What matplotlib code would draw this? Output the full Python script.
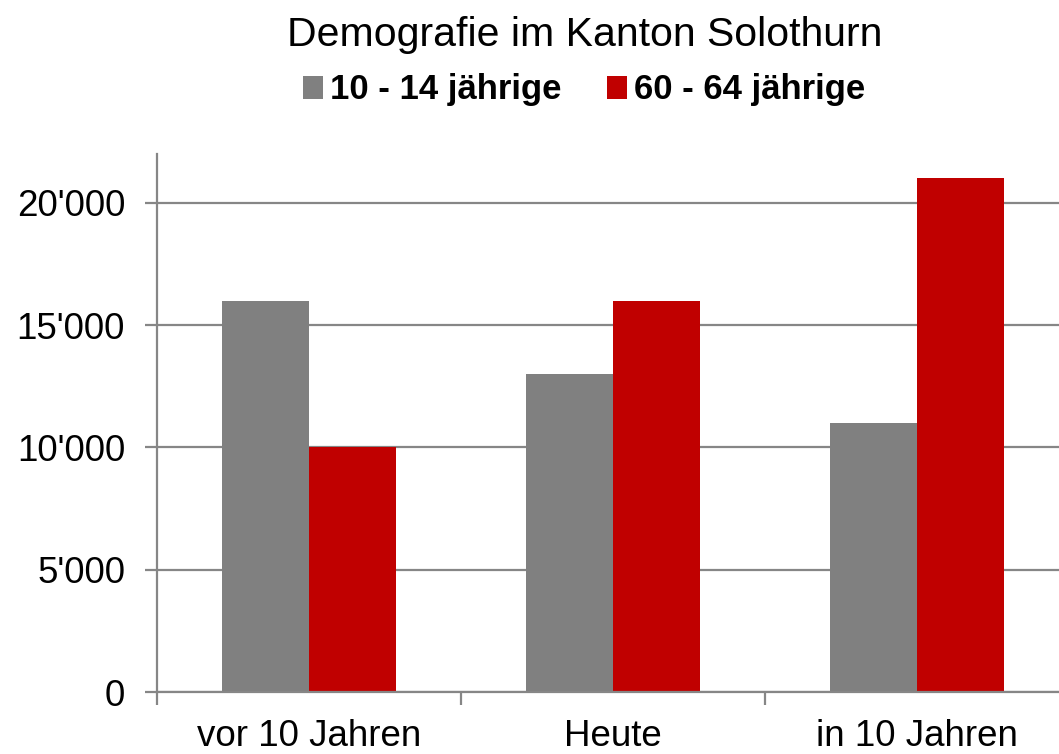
import matplotlib
matplotlib.use("Agg")
import matplotlib.pyplot as plt
from matplotlib.ticker import FuncFormatter, FixedLocator
from matplotlib.patches import Patch
import numpy as np

categories = ["vor 10 Jahren", "Heute", "in 10 Jahren"]
series_names = ["10 - 14 jährige", "60 - 64 jährige"]
young = [16000, 13000, 11000]
old = [10000, 16000, 21000]
colors = ["#808080", "#C00000"]
yticks = [0, 5000, 10000, 15000, 20000]

plt.rcParams["font.family"] = ["Liberation Sans", "DejaVu Sans"]

W, H = 1059, 754
fig = plt.figure(figsize=(W / 100, H / 100), dpi=100)
ax = fig.add_axes([157 / W, (H - 692) / H, 912 / W, 538 / H])

x = np.arange(len(categories))
bw = 0.286
ax.bar(x - bw / 2, young, width=bw, color=colors[0], zorder=3)
ax.bar(x + bw / 2, old, width=bw, color=colors[1], zorder=3)

ax.set_xlim(-0.5, 2.5)
ax.set_ylim(0, 22000)

gridc = "#868686"
ax.yaxis.set_major_locator(FixedLocator(yticks))
ax.yaxis.set_major_formatter(FuncFormatter(lambda v, p: f"{int(v):,}".replace(",", "'")))
ax.grid(axis="y", color=gridc, linewidth=1.6, zorder=1)
ax.set_axisbelow(True)

ax.set_xticks(x)
ax.set_xticklabels(categories)
ax.set_xticks([-0.5, 0.5, 1.5, 2.5], minor=True)
ax.tick_params(axis="x", which="major", length=0, pad=19.5, labelsize=26.5)
ax.tick_params(axis="x", which="minor", length=9, width=1.6, color=gridc, direction="out")
ax.tick_params(axis="y", which="major", length=9, width=1.6, color=gridc, direction="out",
               pad=14, labelsize=26.5)

for s in ["top", "right"]:
    ax.spines[s].set_visible(False)
for s in ["left", "bottom"]:
    ax.spines[s].set_color(gridc)
    ax.spines[s].set_linewidth(1.6)
    ax.spines[s].set_zorder(4)

fig.text(585 / W, 1 - 46 / H, "Demografie im Kanton Solothurn", ha="center", va="baseline",
         fontsize=29.5)

handles = [Patch(facecolor=c, edgecolor="none") for c in colors]
fig.legend(handles, series_names, loc="center", bbox_to_anchor=(584 / W, 1 - 90 / H), ncol=2,
           frameon=False, prop={"size": 25, "weight": "bold"},
           handlelength=0.58, handleheight=0.63, handletextpad=0.2, columnspacing=1.3,
           borderpad=0, borderaxespad=0)

fig.savefig("out.png", dpi=100)
